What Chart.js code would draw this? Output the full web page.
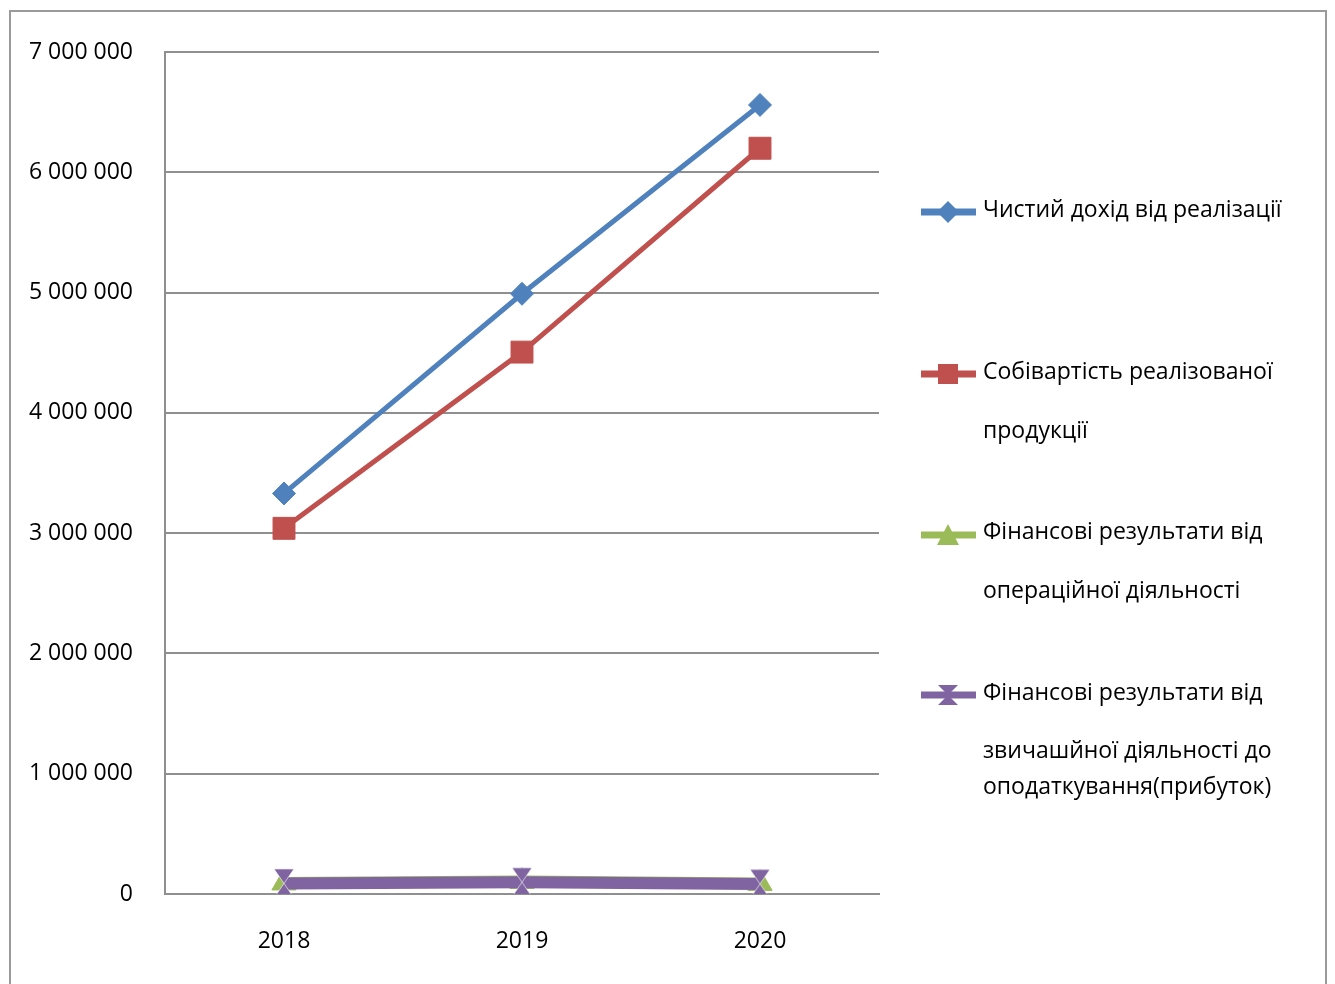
<!DOCTYPE html>
<html>
<head>
<meta charset="utf-8">
<script src="https://cdn.jsdelivr.net/npm/chart.js@4.4.1/dist/chart.umd.min.js"></script>
<style>
  html, body { margin: 0; padding: 0; background: #fff; }
  #wrap { position: relative; width: 1335px; height: 984px; overflow: hidden; }
  #frame { position: absolute; left: 9px; top: 10px; width: 1318px; height: 990px; border: 2px solid #9a9a9a; box-sizing: border-box; }
  #c { position: absolute; left: 0; top: 0; }
  .lg { position: absolute; font-family: "Open Sans", sans-serif; font-size: 23px; color: #000; white-space: nowrap; line-height: 1; }
  .mk { position: absolute; }
</style>
</head>
<body>
<div id="wrap">
  <div id="frame"></div>
  <canvas id="c" width="1335" height="984"></canvas>
  <div id="legend"></div>
</div>
<script>
const categories = ['2018', '2019', '2020'];
const revenue = [3330000, 4990000, 6560000];
const costOfSales = [3040000, 4505000, 6200000];
const operatingResult = [92000, 104000, 88000];
const preTaxProfit = [88000, 98000, 84000];
const yTicks = [0, 1000000, 2000000, 3000000, 4000000, 5000000, 6000000, 7000000];

const seriesNames = [
  ['Чистий дохід від реалізації'],
  ['Собівартість реалізованої', 'продукції'],
  ['Фінансові результати від', 'операційної діяльності'],
  ['Фінансові результати від', 'звичашйної діяльності до', 'оподаткування(прибуток)']
];
const colors = ['#4F81BD', '#C0504D', '#9BBB59', '#8064A2'];

function hourglass(w, h, color) {
  const cv = document.createElement('canvas');
  cv.width = w + 2; cv.height = h + 2;
  const x = cv.getContext('2d');
  x.fillStyle = color;
  x.strokeStyle = 'rgba(255,255,255,0.6)';
  x.lineWidth = 1;
  x.beginPath();
  x.moveTo(1, 1); x.lineTo(w + 1, 1); x.lineTo(w / 2 + 1, h / 2 + 1);
  x.lineTo(w + 1, h + 1); x.lineTo(1, h + 1); x.lineTo(w / 2 + 1, h / 2 + 1);
  x.closePath();
  x.fill(); x.stroke();
  return cv;
}

const fmt = v => String(v).replace(/\B(?=(\d{3})+(?!\d))/g, ' ');
const font = { family: '"Open Sans", sans-serif', size: 23 };

new Chart(document.getElementById('c'), {
  type: 'line',
  data: {
    labels: categories,
    datasets: [
      { label: seriesNames[0].join(' '), data: revenue, borderColor: colors[0], backgroundColor: colors[0],
        borderWidth: 5, pointStyle: 'rectRot', pointRadius: 11.5, pointBorderWidth: 1, pointBorderColor: colors[0], order: 1 },
      { label: seriesNames[1].join(' '), data: costOfSales, borderColor: colors[1], backgroundColor: colors[1],
        borderWidth: 5, pointStyle: 'rect', pointRadius: 15.5, pointBorderWidth: 1, pointBorderColor: colors[1], order: 2 },
      { label: seriesNames[2].join(' '), data: operatingResult, borderColor: colors[2], backgroundColor: colors[2],
        borderWidth: 12, pointStyle: 'triangle', pointRadius: 14, pointBorderWidth: 1, pointBorderColor: colors[2], order: 3 },
      { label: seriesNames[3].join(' '), data: preTaxProfit, borderColor: colors[3], backgroundColor: colors[3],
        borderWidth: 12, pointStyle: hourglass(20, 29, colors[3]), order: 0 }
    ]
  },
  options: {
    responsive: false,
    animation: false,
    events: [],
    layout: { padding: { top: 52, right: 456, left: 0, bottom: 0 } },
    plugins: { legend: { display: false }, tooltip: { enabled: false } },
    scales: {
      x: {
        offset: true,
        grid: { display: false, drawTicks: false },
        border: { display: true, color: '#8f8f8f', width: 2 },
        ticks: { font, color: '#000', padding: 34 },
        afterFit: s => { s.height = 90; }
      },
      y: {
        min: 0, max: 7000000,
        afterBuildTicks: s => { s.ticks = yTicks.map(v => ({ value: v })); },
        grid: { color: '#8f8f8f', lineWidth: 2, drawTicks: false },
        border: { display: true, color: '#8f8f8f', width: 2 },
        ticks: { font, color: '#000', padding: 32, callback: v => fmt(v) },
        afterFit: s => { s.width = 165; }
      }
    }
  }
});

// HTML legend
const legendLayout = [
  { y: 212, lines: [209] },
  { y: 374, lines: [371, 430] },
  { y: 535, lines: [531, 590] },
  { y: 695, lines: [692, 750, 786] }
];
function markerSvg(i) {
  const c = colors[i];
  let shape = '';
  if (i === 0) shape = `<polygon points="27,1 38,12 27,23 16,12" fill="${c}"/>`;
  if (i === 1) shape = `<rect x="17" y="2" width="20" height="20" fill="${c}"/>`;
  if (i === 2) shape = `<polygon points="27,1 38,22 16,22" fill="${c}"/>`;
  if (i === 3) shape = `<polygon points="17,2 37,2 27,12 37,22 17,22 27,12" fill="${c}"/>`;
  return `<svg width="55" height="24" viewBox="0 0 55 24"><rect x="0" y="8.5" width="55" height="7" fill="${c}"/>${shape}</svg>`;
}
const lg = document.getElementById('legend');
legendLayout.forEach((item, i) => {
  const m = document.createElement('div');
  m.className = 'mk';
  m.style.left = '921px';
  m.style.top = (item.y - 12) + 'px';
  m.innerHTML = markerSvg(i);
  lg.appendChild(m);
  item.lines.forEach((ly, j) => {
    const t = document.createElement('div');
    t.className = 'lg';
    t.style.left = '983px';
    t.style.top = (ly - 12) + 'px';
    t.textContent = seriesNames[i][j];
    lg.appendChild(t);
  });
});
</script>
</body>
</html>
